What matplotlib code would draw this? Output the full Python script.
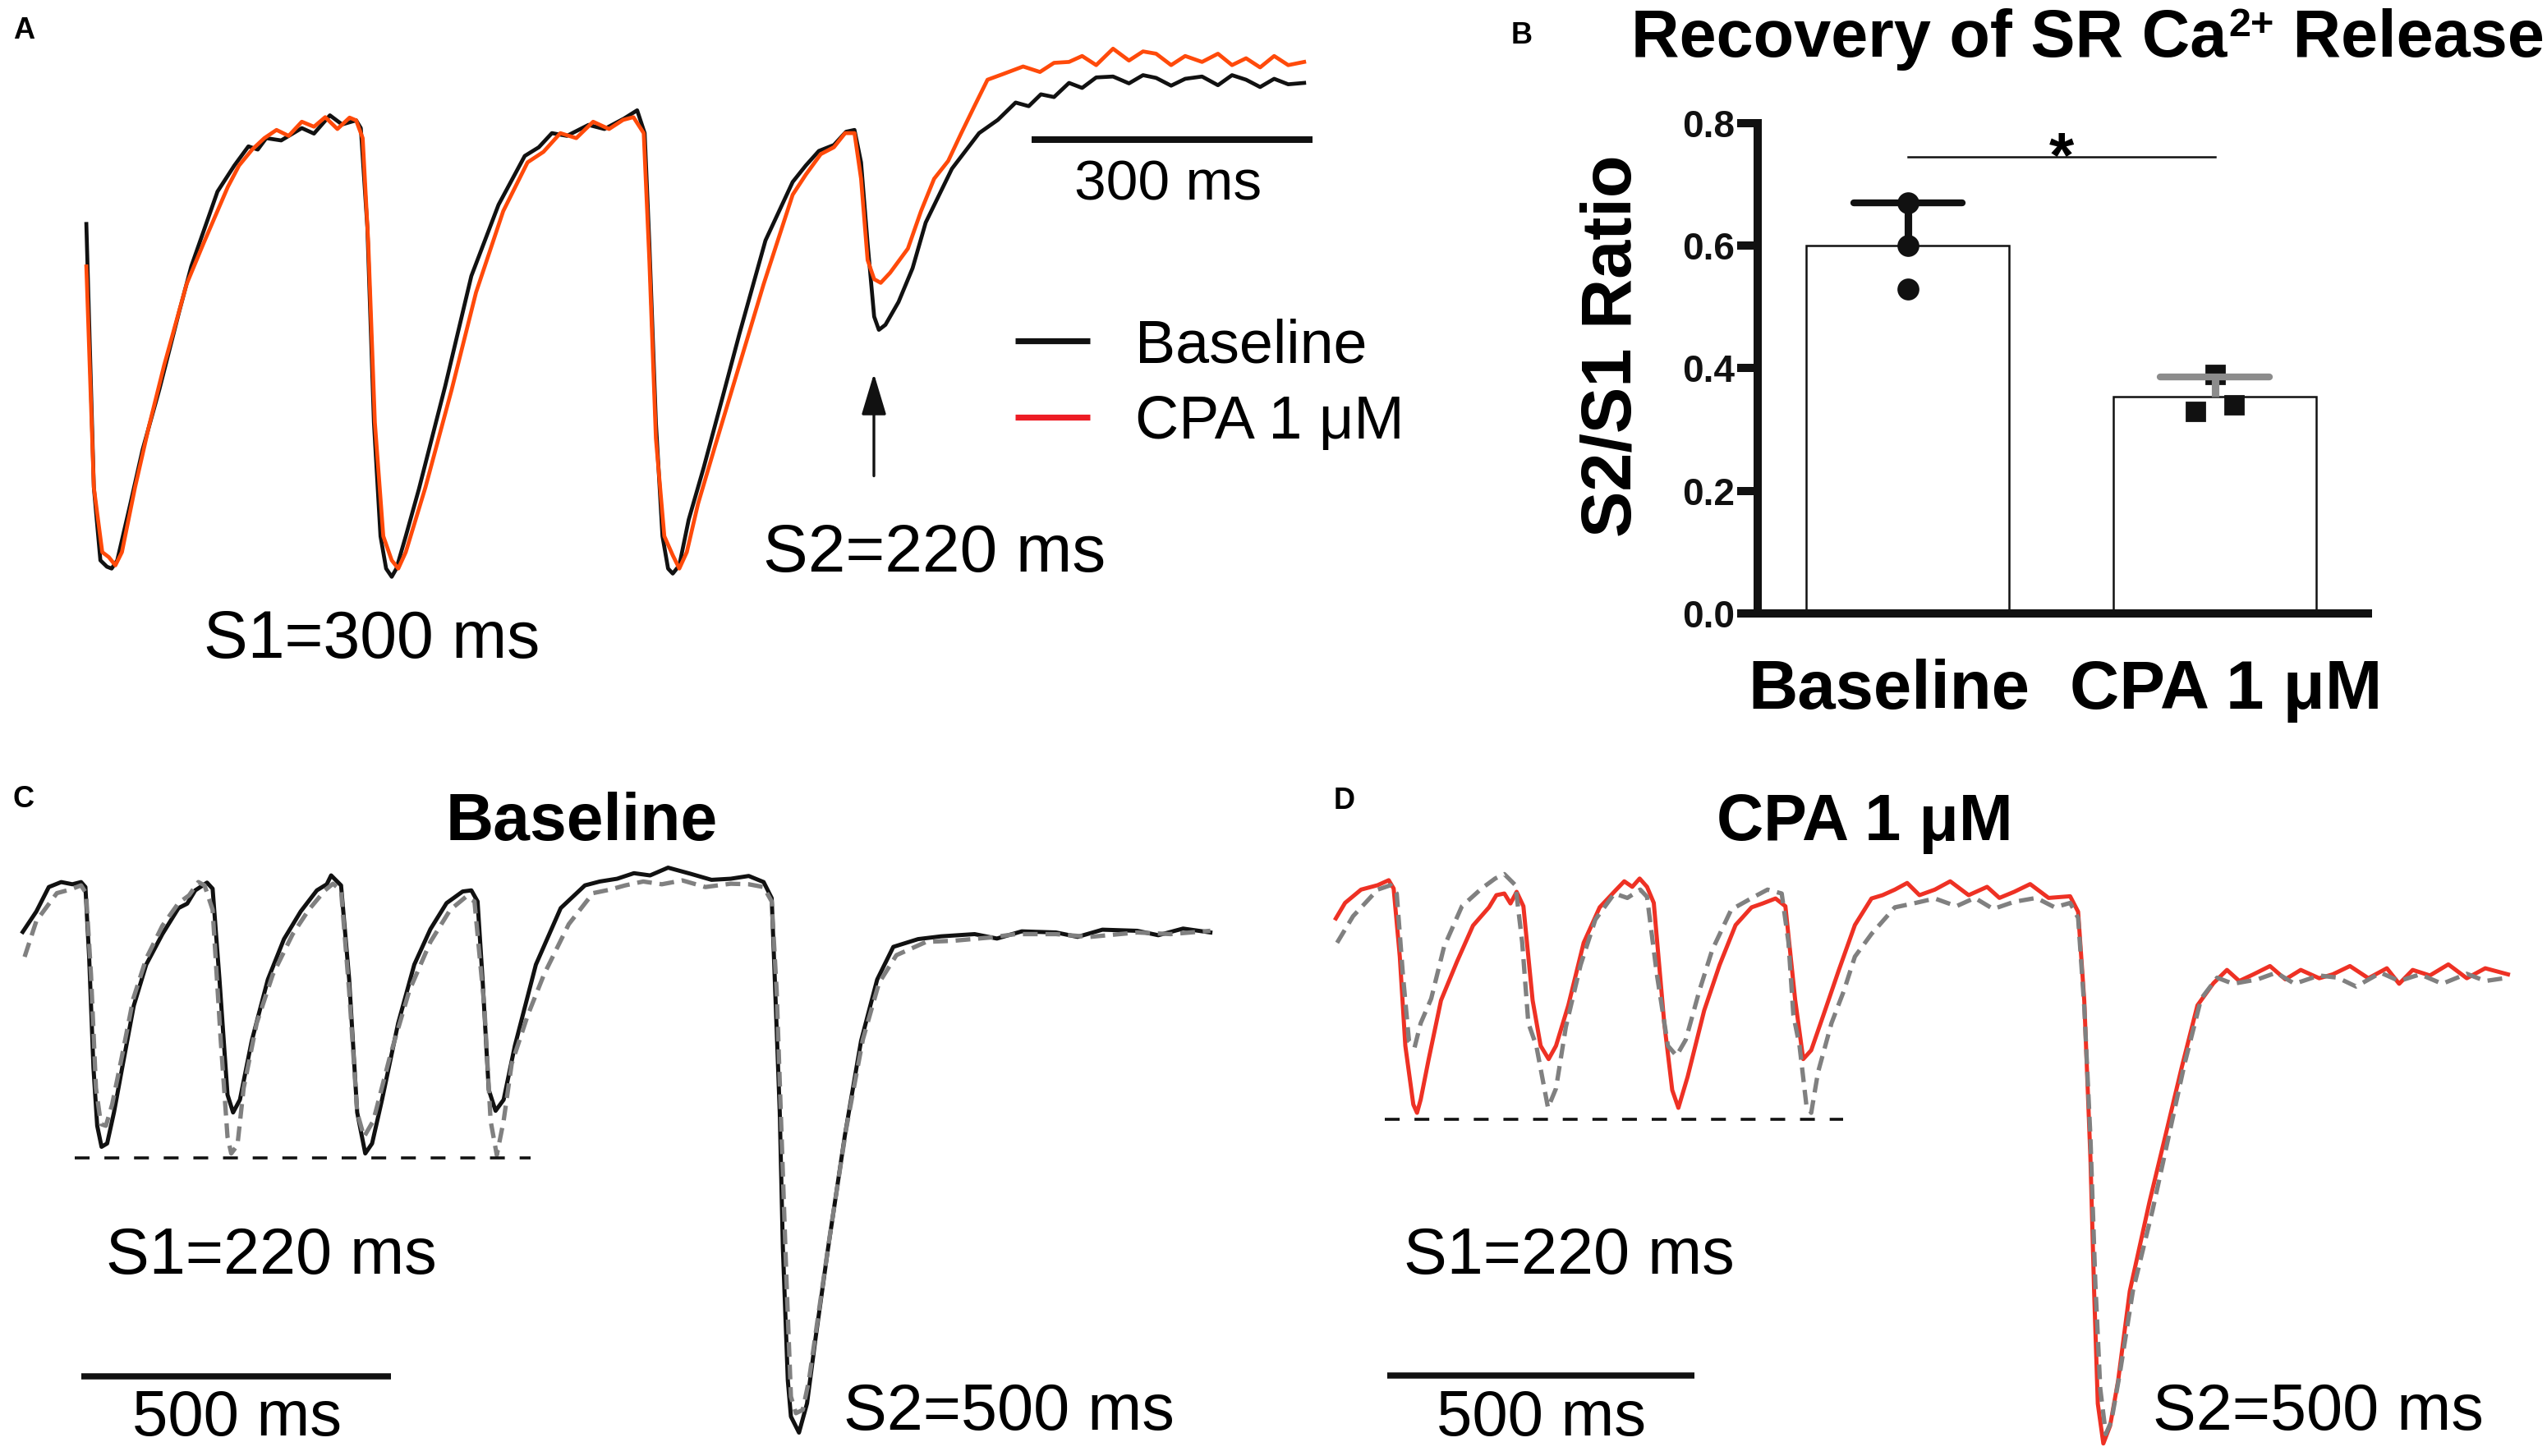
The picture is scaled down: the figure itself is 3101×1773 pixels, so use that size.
import numpy as np
import matplotlib
matplotlib.use("Agg")
import matplotlib.pyplot as plt
from matplotlib.lines import Line2D

plt.rcParams['font.family'] = ['Liberation Sans', 'DejaVu Sans']

# ---------------- DATA ----------------
# Panel A: S1=300 ms pacing, S2=220 ms (time in ms, normalized fluorescence)
a_baseline = [(2, 0.762), (10, 0.185), (17, 0.025), (24, 0.011), (29, 0.007), (35, 0.025), (49, 0.149),
              (62, 0.267), (80, 0.40), (101, 0.569), (114, 0.669), (142, 0.833), (160, 0.89), (175, 0.932),
              (185, 0.925), (194, 0.95), (210, 0.945), (232, 0.972), (245, 0.96), (262, 1.0), (275, 0.98),
              (290, 0.989), (295, 0.972), (302, 0.754), (309, 0.327), (316, 0.078), (322, 0.007), (328, -0.011),
              (333, 0.007), (343, 0.078), (357, 0.181), (385, 0.406), (413, 0.648), (442, 0.804), (470, 0.911),
              (485, 0.93), (499, 0.961), (515, 0.955), (538, 0.979), (555, 0.97), (576, 0.993), (590, 1.011),
              (598, 0.961), (603, 0.719), (610, 0.327), (617, 0.078), (623, 0.007), (628, -0.004), (635, 0.014),
              (645, 0.114), (661, 0.228), (681, 0.381), (699, 0.520), (727, 0.726), (756, 0.854), (770, 0.89),
              (784, 0.922), (800, 0.935), (813, 0.964), (822, 0.968), (829, 0.897), (836, 0.719), (843, 0.559),
              (848, 0.530), (855, 0.541), (869, 0.591), (884, 0.665), (898, 0.765), (926, 0.883), (955, 0.961),
              (975, 0.99), (994, 1.028), (1008, 1.02), (1021, 1.046), (1035, 1.04), (1051, 1.071), (1065, 1.06),
              (1080, 1.083), (1098, 1.085), (1115, 1.07), (1130, 1.088), (1144, 1.082), (1160, 1.065),
              (1175, 1.08), (1193, 1.085), (1210, 1.066), (1225, 1.088), (1240, 1.078), (1255, 1.062),
              (1270, 1.08), (1285, 1.068), (1302, 1.071)]
a_cpa = [(2, 0.669), (10, 0.185), (19, 0.043), (26, 0.032), (33, 0.014), (40, 0.043), (54, 0.185), (69, 0.320),
         (85, 0.452), (109, 0.630), (127, 0.719), (153, 0.843), (165, 0.89), (179, 0.925), (192, 0.95),
         (205, 0.968), (218, 0.955), (232, 0.986), (245, 0.975), (257, 0.996), (270, 0.97), (283, 0.995),
         (290, 0.989), (297, 0.950), (303, 0.719), (310, 0.327), (319, 0.078), (328, 0.025), (335, 0.007),
         (343, 0.043), (364, 0.185), (392, 0.399), (418, 0.612), (447, 0.790), (473, 0.897), (490, 0.92),
         (508, 0.961), (525, 0.95), (543, 0.986), (560, 0.97), (575, 0.99), (586, 0.996), (597, 0.961),
         (603, 0.683), (610, 0.292), (619, 0.078), (628, 0.036), (635, 0.007), (643, 0.043), (655, 0.149),
         (673, 0.274), (699, 0.452), (725, 0.630), (756, 0.826), (770, 0.87), (786, 0.915), (800, 0.93),
         (812, 0.961), (822, 0.961), (829, 0.861), (836, 0.683), (843, 0.641), (850, 0.633), (860, 0.655),
         (879, 0.708), (893, 0.790), (907, 0.861), (922, 0.90), (936, 0.961), (950, 1.02), (964, 1.078),
         (980, 1.09), (1002, 1.107), (1020, 1.095), (1035, 1.115), (1051, 1.117), (1065, 1.13), (1080, 1.11),
         (1098, 1.146), (1115, 1.12), (1130, 1.14), (1144, 1.135), (1160, 1.11), (1175, 1.13), (1193, 1.117),
         (1210, 1.135), (1225, 1.11), (1240, 1.125), (1255, 1.105), (1270, 1.13), (1285, 1.11), (1302, 1.117)]

# Panel B: S2/S1 ratio
categories = ["Baseline", "CPA 1 \u03bcM"]
baseline_ratios = [0.67, 0.60, 0.53]
cpa_ratios = [0.33, 0.39, 0.34]
b_yticks = [0.0, 0.2, 0.4, 0.6, 0.8]

# Panel C: Baseline, S1=220 ms, S2=500 ms (solid and dashed runs)
c_solid = [(0, 0.904), (22, 0.941), (42, 0.985), (62, 0.994), (80, 0.99), (94, 0.994), (101, 0.985),
           (107, 0.859), (114, 0.658), (120, 0.554), (127, 0.516), (136, 0.522), (147, 0.578), (160, 0.657),
           (179, 0.771), (199, 0.845), (225, 0.90), (251, 0.947), (265, 0.955), (278, 0.979), (297, 0.993),
           (306, 0.982), (317, 0.819), (330, 0.610), (339, 0.578), (350, 0.601), (369, 0.707), (395, 0.818),
           (421, 0.891), (448, 0.941), (474, 0.979), (490, 0.99), (497, 1.006), (513, 0.988), (526, 0.819),
           (539, 0.578), (552, 0.504), (563, 0.522), (579, 0.601), (605, 0.739), (631, 0.845), (657, 0.909),
           (683, 0.956), (709, 0.977), (723, 0.979), (733, 0.959), (741, 0.819), (751, 0.619), (762, 0.581),
           (775, 0.601), (793, 0.698), (827, 0.845), (867, 0.947), (906, 0.988), (930, 0.995), (958, 1.0),
           (985, 1.01), (1011, 1.006), (1040, 1.02), (1076, 1.009), (1110, 0.998), (1141, 1.0), (1170, 1.005),
           (1194, 0.994), (1207, 0.965), (1212, 0.819), (1220, 0.578), (1225, 0.334), (1233, 0.094),
           (1238, 0.029), (1251, 0.0), (1264, 0.053), (1278, 0.173), (1298, 0.334), (1325, 0.537),
           (1351, 0.707), (1377, 0.818), (1403, 0.877), (1443, 0.891), (1480, 0.896), (1534, 0.90),
           (1570, 0.892), (1610, 0.905), (1665, 0.903), (1700, 0.895), (1740, 0.908), (1796, 0.906),
           (1830, 0.898), (1870, 0.91), (1914, 0.903)]
c_dashed = [(3, 0.859), (22, 0.924), (55, 0.974), (75, 0.98), (94, 0.988), (102, 0.974), (110, 0.827),
            (118, 0.622), (126, 0.557), (134, 0.554), (144, 0.592), (160, 0.680), (178, 0.783), (199, 0.856),
            (225, 0.915), (251, 0.956), (268, 0.97), (283, 0.994), (293, 0.988), (306, 0.944), (319, 0.710),
            (330, 0.534), (336, 0.504), (346, 0.519), (356, 0.622), (377, 0.739), (403, 0.827), (435, 0.90),
            (461, 0.944), (487, 0.979), (500, 0.991), (513, 0.979), (526, 0.798), (539, 0.578), (550, 0.534),
            (565, 0.563), (592, 0.680), (623, 0.798), (657, 0.886), (689, 0.944), (715, 0.968), (728, 0.959),
            (744, 0.768), (754, 0.563), (764, 0.501), (775, 0.563), (788, 0.666), (814, 0.754), (840, 0.827),
            (880, 0.918), (919, 0.974), (945, 0.98), (971, 0.988), (1000, 0.995), (1030, 0.99), (1063, 0.997),
            (1100, 0.985), (1141, 0.991), (1170, 0.99), (1194, 0.985), (1207, 0.959), (1215, 0.798),
            (1223, 0.534), (1231, 0.270), (1238, 0.065), (1246, 0.035), (1257, 0.041), (1267, 0.094),
            (1280, 0.196), (1301, 0.358), (1327, 0.548), (1354, 0.710), (1380, 0.812), (1408, 0.862),
            (1456, 0.886), (1500, 0.888), (1560, 0.894), (1600, 0.9), (1665, 0.90), (1720, 0.895),
            (1796, 0.903), (1850, 0.9), (1914, 0.906)]
c_s1_trough = 0.496
c_ref_span = (84, 819)

# Panel D: CPA 1 uM, S1=220 ms, S2=500 ms
d_solid = [(1, 0.948), (16, 0.976), (42, 1.0), (69, 1.008), (87, 1.017), (95, 1.002), (105, 0.879),
           (114, 0.718), (127, 0.612), (133, 0.597), (139, 0.621), (152, 0.694), (172, 0.80), (198, 0.870),
           (224, 0.935), (250, 0.968), (262, 0.99), (275, 0.993), (285, 0.975), (295, 0.996), (306, 0.970),
           (321, 0.80), (334, 0.718), (347, 0.694), (359, 0.718), (379, 0.791), (404, 0.904), (430, 0.968),
           (457, 1.0), (470, 1.015), (483, 1.005), (495, 1.02), (507, 1.005), (518, 0.976), (535, 0.759),
           (548, 0.638), (558, 0.606), (573, 0.662), (600, 0.782), (625, 0.864), (651, 0.936), (677, 0.968),
           (695, 0.975), (716, 0.984), (732, 0.970), (748, 0.80), (761, 0.694), (774, 0.710), (794, 0.774),
           (819, 0.855), (845, 0.936), (872, 0.984), (890, 0.99), (910, 1.0), (930, 1.012), (950, 0.99),
           (975, 1.0), (1000, 1.015), (1030, 0.99), (1060, 1.005), (1080, 0.985), (1104, 0.996),
           (1130, 1.01), (1160, 0.985), (1195, 0.988), (1208, 0.960), (1218, 0.799), (1228, 0.516),
           (1234, 0.275), (1240, 0.072), (1249, 0.0), (1260, 0.032), (1273, 0.113), (1292, 0.275),
           (1324, 0.436), (1350, 0.556), (1376, 0.677), (1402, 0.791), (1428, 0.831), (1450, 0.855),
           (1470, 0.835), (1493, 0.847), (1520, 0.862), (1545, 0.838), (1570, 0.855), (1600, 0.84),
           (1622, 0.847), (1650, 0.862), (1680, 0.84), (1710, 0.858), (1730, 0.83), (1752, 0.855),
           (1780, 0.845), (1810, 0.865), (1840, 0.84), (1870, 0.858), (1907, 0.847)]
d_dashed = [(3, 0.904), (29, 0.952), (69, 1.0), (90, 1.008), (100, 0.993), (110, 0.847), (120, 0.726),
            (129, 0.715), (139, 0.759), (156, 0.803), (177, 0.897), (206, 0.970), (238, 1.002), (260, 1.02),
            (275, 1.028), (293, 1.008), (304, 0.905), (314, 0.759), (327, 0.718), (346, 0.606), (359, 0.641),
            (375, 0.752), (399, 0.864), (423, 0.946), (454, 0.993), (475, 0.985), (496, 1.0), (507, 0.987),
            (523, 0.847), (541, 0.718), (555, 0.700), (570, 0.729), (592, 0.817), (613, 0.891), (644, 0.964),
            (681, 0.987), (703, 1.0), (726, 0.993), (737, 0.905), (745, 0.773), (755, 0.718), (766, 0.612),
            (774, 0.597), (785, 0.670), (807, 0.759), (827, 0.817), (845, 0.879), (872, 0.920), (910, 0.968),
            (940, 0.975), (975, 0.984), (1010, 0.97), (1040, 0.985), (1070, 0.965), (1104, 0.978),
            (1140, 0.985), (1170, 0.968), (1195, 0.976), (1208, 0.949), (1218, 0.788), (1228, 0.553),
            (1236, 0.289), (1244, 0.099), (1253, 0.017), (1262, 0.040), (1276, 0.128), (1297, 0.275),
            (1329, 0.421), (1355, 0.553), (1381, 0.685), (1408, 0.803), (1434, 0.841), (1460, 0.83),
            (1500, 0.838), (1530, 0.85), (1560, 0.83), (1600, 0.845), (1630, 0.841), (1660, 0.825),
            (1700, 0.85), (1730, 0.835), (1764, 0.847), (1800, 0.83), (1840, 0.848), (1870, 0.835),
            (1907, 0.841)]
d_s1_trough = 0.585
d_ref_span = (81, 826)

# ---------------- FIGURE ----------------
W, H = 1568.0, 896.4          # reference layout units
fig = plt.figure(figsize=(15.505, 8.865), dpi=200)
renderer = fig.canvas.get_renderer()


def fx(x):
    return x / W


def fy(y):
    return 1 - y / H


def trace_axes(region, origin, scale):
    xl, yt, xr, yb = region
    ax = fig.add_axes([fx(xl), fy(yb), (xr - xl) / W, (yb - yt) / H])
    x0, y0 = origin
    sx, sy = scale
    ax.set_xlim((xl - x0) / sx, (xr - x0) / sx)
    ax.set_ylim((y0 - yb) / sy, (y0 - yt) / sy)
    ax.axis('off')
    return ax


def ftext(x, y, s, size, weight='normal', ha='center', va='baseline', **kw):
    return fig.text(fx(x), fy(y), s, fontsize=size, fontweight=weight, ha=ha, va=va, **kw)


def xy(pairs):
    arr = np.array(pairs, dtype=float)
    return arr[:, 0], arr[:, 1]


BLACK = '#111111'
ORANGE = '#FF4A0A'
RED = '#EE3124'
GRAY = '#808080'

# ---- Panel A ----
axA = trace_axes((0, 0, 830, 440), (52, 352), (0.5767, 281))
t, v = xy(a_baseline)
axA.plot(t, v, color=BLACK, lw=1.7, clip_on=False)
t, v = xy(a_cpa)
axA.plot(t, v, color=ORANGE, lw=1.7, clip_on=False)
axA.plot([1011, 1311], [0.947, 0.947], color=BLACK, lw=2.9, solid_capstyle='butt')
ftext(719, 123, "300 ms", 25)
ftext(229, 405, "S1=300 ms", 29)
ftext(575, 352, "S2=220 ms", 29.5)
axA.annotate('', xy=(fx(538), fy(230)), xytext=(fx(538), fy(293)), xycoords='figure fraction',
             textcoords='figure fraction',
             arrowprops=dict(arrowstyle='-|>,head_length=0.6,head_width=0.18', color=BLACK, lw=1.2,
                             mutation_scale=26, shrinkA=0, shrinkB=0))
# legend
for yl, col, lab, yb in [(210, BLACK, "Baseline", 223), (257, '#ED1C24', "CPA 1 \u03bcM", 270)]:
    fig.add_artist(Line2D([fx(625), fx(671)], [fy(yl), fy(yl)], transform=fig.transFigure,
                          color=col, lw=2.6, solid_capstyle='butt'))
    ftext(699, yb, lab, 26.5, ha='left')
ftext(8, 24, "A", 13, weight='bold', ha='left')

# ---- Panel B ----
bx_left, bx_right, by_top, by_bot = 1082, 1458, 76, 377.5
axB = fig.add_axes([fx(bx_left), fy(by_bot), (bx_right - bx_left) / W, (by_bot - by_top) / H])
c1, unit = 1174.5, 189.0
axB.set_xlim((bx_left - c1) / unit, (bx_right - c1) / unit)
axB.set_ylim(0, 0.8)
groups = [baseline_ratios, cpa_ratios]
means = [np.mean(g) for g in groups]
sds = [np.std(g, ddof=1) for g in groups]
xpos = np.arange(len(categories))
axB.bar(xpos, means, width=0.661, color='white', edgecolor=BLACK, linewidth=0.9, zorder=1)
axB.plot(np.full(3, xpos[0]), baseline_ratios, 'o', color=BLACK, ms=8.6, zorder=2)
axB.plot(xpos[1] + np.array([-0.064, 0.0, 0.064]), cpa_ratios, 's', color=BLACK, ms=8.2, zorder=2)
cap_half = 0.177
for i, col in enumerate([BLACK, '#8C8C8C']):
    axB.errorbar(xpos[i], means[i], yerr=[[0], [sds[i]]], fmt='none', ecolor=col, elinewidth=3.3,
                 capsize=0, zorder=3)
    axB.plot([xpos[i] - cap_half, xpos[i] + cap_half], [means[i] + sds[i]] * 2, color=col, lw=3.0,
             solid_capstyle='round', zorder=3)
axB.plot([0.0, 1.0], [0.745, 0.745], color=BLACK, lw=0.9)
axB.text(0.5, 0.712, "*", ha='center', va='baseline', fontsize=28, fontweight='bold')
for s in ['top', 'right']:
    axB.spines[s].set_visible(False)
for s in ['left', 'bottom']:
    axB.spines[s].set_linewidth(3.6)
    axB.spines[s].set_color(BLACK)
axB.set_yticks(b_yticks)
axB.set_yticklabels([f"{v:.1f}" for v in b_yticks], fontsize=16.5, fontweight='bold')
axB.tick_params(axis='y', length=9, width=3.6, pad=1, colors=BLACK)
axB.set_xticks(xpos + np.array([-0.061, 0.037]))
axB.set_xticklabels(categories, fontsize=30, fontweight='bold')
axB.tick_params(axis='x', length=0, pad=20)
axB.set_ylabel("S2/S1 Ratio", fontsize=30.5, fontweight='bold')
axB.yaxis.set_label_coords(-0.183, 0.545)

# title with raised "2+"
t1 = ftext(1004, 35, "Recovery of SR Ca", 29.2, weight='bold', ha='left')
x_end = t1.get_window_extent(renderer).x1 / fig.bbox.width
t2 = fig.text(x_end + 0.0008, fy(22.0), "2+", fontsize=17.5, fontweight='bold', ha='left', va='baseline')
x_end2 = t2.get_window_extent(renderer).x1 / fig.bbox.width
fig.text(x_end2, fy(35), " Release", fontsize=29.2, fontweight='bold', ha='left', va='baseline')
ftext(930, 27, "B", 13, weight='bold', ha='left')

# ---- Panel C ----
axC = trace_axes((0, 450, 800, 896.4), (14, 882), (0.382, 341))
t, v = xy(c_solid)
axC.plot(t, v, color=BLACK, lw=1.8, clip_on=False)
t, v = xy(c_dashed)
axC.plot(t, v, color=GRAY, lw=1.9, ls=(0, (3.4, 1.8)), clip_on=False)
axC.plot(c_ref_span, [c_s1_trough] * 2, color=BLACK, lw=1.3, ls=(0, (5, 5)))
axC.plot([94, 594], [0.101, 0.101], color=BLACK, lw=2.7, solid_capstyle='butt')
ftext(358, 517, "Baseline", 29, weight='bold')
ftext(167, 784, "S1=220 ms", 28.5)
ftext(146, 884, "500 ms", 28)
ftext(621, 880, "S2=500 ms", 28.5)
ftext(8, 497, "C", 13, weight='bold', ha='left')

# ---- Panel D ----
axD = trace_axes((800, 450, 1568, 896.4), (822, 888.7), (0.3786, 341))
t, v = xy(d_solid)
axD.plot(t, v, color=RED, lw=1.8, clip_on=False)
t, v = xy(d_dashed)
axD.plot(t, v, color=GRAY, lw=1.9, ls=(0, (3.4, 1.8)), clip_on=False)
axD.plot(d_ref_span, [d_s1_trough] * 2, color=BLACK, lw=1.3, ls=(0, (5, 5)))
axD.plot([84, 584], [0.1223, 0.1223], color=BLACK, lw=2.7, solid_capstyle='butt')
ftext(1148, 517, "CPA 1 \u03bcM", 28.5, weight='bold')
ftext(966, 784, "S1=220 ms", 28.5)
ftext(949, 884, "500 ms", 28)
ftext(1427, 880, "S2=500 ms", 28.5)
ftext(821, 498, "D", 13, weight='bold', ha='left')

fig.savefig("out.png", dpi=200, facecolor='white')
